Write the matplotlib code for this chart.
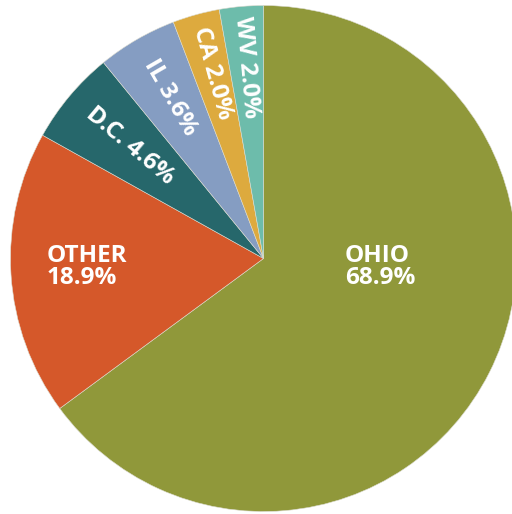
import numpy as np
import matplotlib
matplotlib.use("Agg")
import matplotlib.pyplot as plt

# Data
states = ["OHIO", "OTHER", "D.C.", "IL", "CA", "WV"]
label_pcts = [68.9, 18.9, 4.6, 3.6, 2.0, 2.0]
# slice sizes as drawn in the reference (in percent of the circle)
slice_sizes = [64.9, 18.2, 6.0, 5.1, 3.0, 2.8]
colors = ["#90983A", "#D5582A", "#26676B", "#859DC2", "#DDAA3E", "#6DBCAB"]

fig = plt.figure(figsize=(5.12, 5.14), dpi=100)
ax = fig.add_axes([0, 0, 1, 1])

R = 1.0
wedges, _ = ax.pie(slice_sizes, colors=colors, startangle=90, counterclock=False,
                   radius=R, wedgeprops=dict(linewidth=0.4, edgecolor="#dcdcd0"))

# pixel mapping: centre at (263.5, 258.5), radius 253 px
px = 253.0
ax.set_xlim(-263.5 / px, (512 - 263.5) / px)
ax.set_ylim(-(514 - 258.5) / px, 258.5 / px)
ax.set_aspect("auto")
ax.axis("off")

font = ["Open Sans", "DejaVu Sans"]
fs = 17.5

# Large labels
ax.text(0.322, -0.034, f"{states[0]}\n{label_pcts[0]:.1f}%", color="white",
        fontsize=fs, fontweight="bold", family=font, ha="left", va="center",
        linespacing=0.9)
ax.text(-0.856, -0.034, f"{states[1]}\n{label_pcts[1]:.1f}%", color="white",
        fontsize=fs, fontweight="bold", family=font, ha="left", va="center",
        linespacing=0.9)

# Radial labels for small slices
radii = {2: 0.69, 3: 0.735, 4: 0.76, 5: 0.76}
for i in range(2, 6):
    w = wedges[i]
    mid = (w.theta1 + w.theta2) / 2.0
    r = radii[i]
    x = r * np.cos(np.deg2rad(mid))
    y = r * np.sin(np.deg2rad(mid))
    ax.text(x, y, f"{states[i]} {label_pcts[i]:.1f}%", color="white",
            fontsize=fs, fontweight="bold", family=font, ha="center",
            va="center", rotation=mid - 180, rotation_mode="anchor")

fig.savefig("out.png", dpi=100)
